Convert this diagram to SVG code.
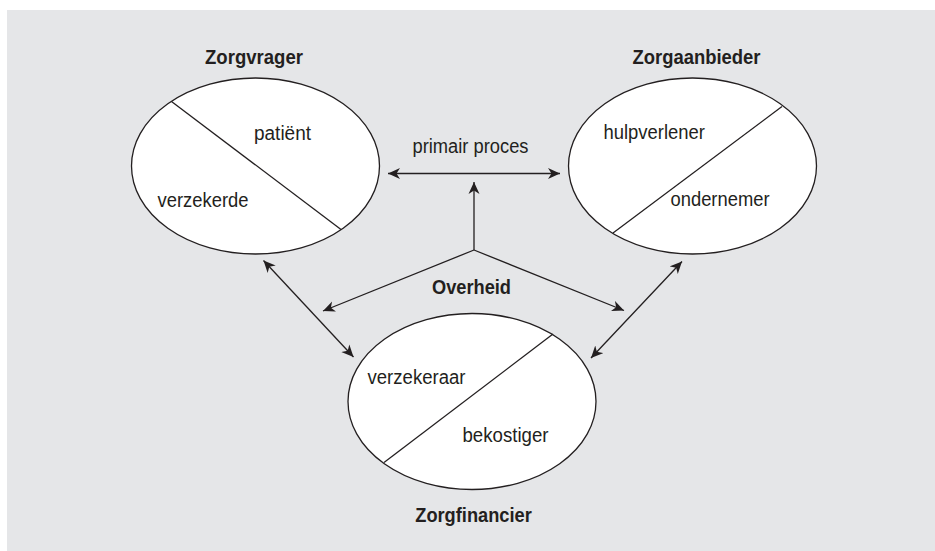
<svg xmlns="http://www.w3.org/2000/svg" width="935" height="551" viewBox="0 0 935 551">
<style>
.el{fill:#fff;stroke:#231f20;stroke-width:1.3}
.div{stroke:#231f20;stroke-width:1.3;fill:none}
.t{font-family:"Liberation Sans",Arial,sans-serif;font-size:20px;fill:#231f20}
.b{font-family:"Liberation Sans",Arial,sans-serif;font-size:20.5px;font-weight:bold;fill:#231f20;text-anchor:middle}
.c{stroke:#231f20;stroke-width:1.3;fill:none;marker-start:url(#ah);marker-end:url(#ah)}
.c1{stroke:#231f20;stroke-width:1.3;fill:none;marker-end:url(#ah)}
</style>
<defs>
<marker id="ah" viewBox="-12 -6 13 12" refX="0" refY="0" markerWidth="13" markerHeight="12" markerUnits="userSpaceOnUse" orient="auto-start-reverse">
<path d="M0,0 L-12,-5.5 L-8.5,0 L-12,5.5 Z" fill="#231f20"/>
</marker>
</defs>
<rect x="0" y="0" width="935" height="551" fill="#fff"/>
<rect x="7" y="10" width="928" height="541" fill="#e5e6e8"/>
<g id="connectors">
<line class="c" x1="388" y1="173.5" x2="560" y2="173.5"/>
<polyline class="c1" points="474,250 474,182"/>
<line class="c1" x1="474" y1="250" x2="323" y2="311"/>
<line class="c1" x1="474" y1="250" x2="624" y2="310.5"/>
<line class="c" x1="263.5" y1="260.5" x2="353.5" y2="357"/>
<line class="c" x1="682" y1="261.5" x2="591" y2="358"/>
</g>
<g id="zorgvrager">
<text class="b" x="254" y="64" textLength="98" lengthAdjust="spacingAndGlyphs">Zorgvrager</text>
<ellipse class="el" cx="255.5" cy="166" rx="124" ry="88"/>
<line class="div" x1="171.5" y1="101.5" x2="341" y2="229.5"/>
<text class="t" x="254" y="140" textLength="57" lengthAdjust="spacingAndGlyphs">patiënt</text>
<text class="t" x="157.5" y="206.5" textLength="91" lengthAdjust="spacingAndGlyphs">verzekerde</text>
</g>
<g id="zorgaanbieder">
<text class="b" x="696.5" y="64" textLength="128" lengthAdjust="spacingAndGlyphs">Zorgaanbieder</text>
<ellipse class="el" cx="692.5" cy="166" rx="124" ry="88"/>
<line class="div" x1="782" y1="106.5" x2="613" y2="233"/>
<text class="t" x="603.5" y="138.5" textLength="101.5" lengthAdjust="spacingAndGlyphs">hulpverlener</text>
<text class="t" x="670.5" y="205.5" textLength="99" lengthAdjust="spacingAndGlyphs">ondernemer</text>
</g>
<g id="overheid">
<text class="b" x="471.5" y="294" textLength="79" lengthAdjust="spacingAndGlyphs">Overheid</text>
</g>
<text class="t" x="470.5" y="153" text-anchor="middle" textLength="116" lengthAdjust="spacingAndGlyphs">primair proces</text>
<g id="zorgfinancier">
<ellipse class="el" cx="472" cy="401.5" rx="124" ry="88"/>
<line class="div" x1="553" y1="334" x2="384" y2="462.5"/>
<text class="t" x="367.5" y="383.5" textLength="98" lengthAdjust="spacingAndGlyphs">verzekeraar</text>
<text class="t" x="462.5" y="442" textLength="86" lengthAdjust="spacingAndGlyphs">bekostiger</text>
<text class="b" x="473.5" y="521.5" textLength="116.5" lengthAdjust="spacingAndGlyphs">Zorgfinancier</text>
</g>
</svg>
